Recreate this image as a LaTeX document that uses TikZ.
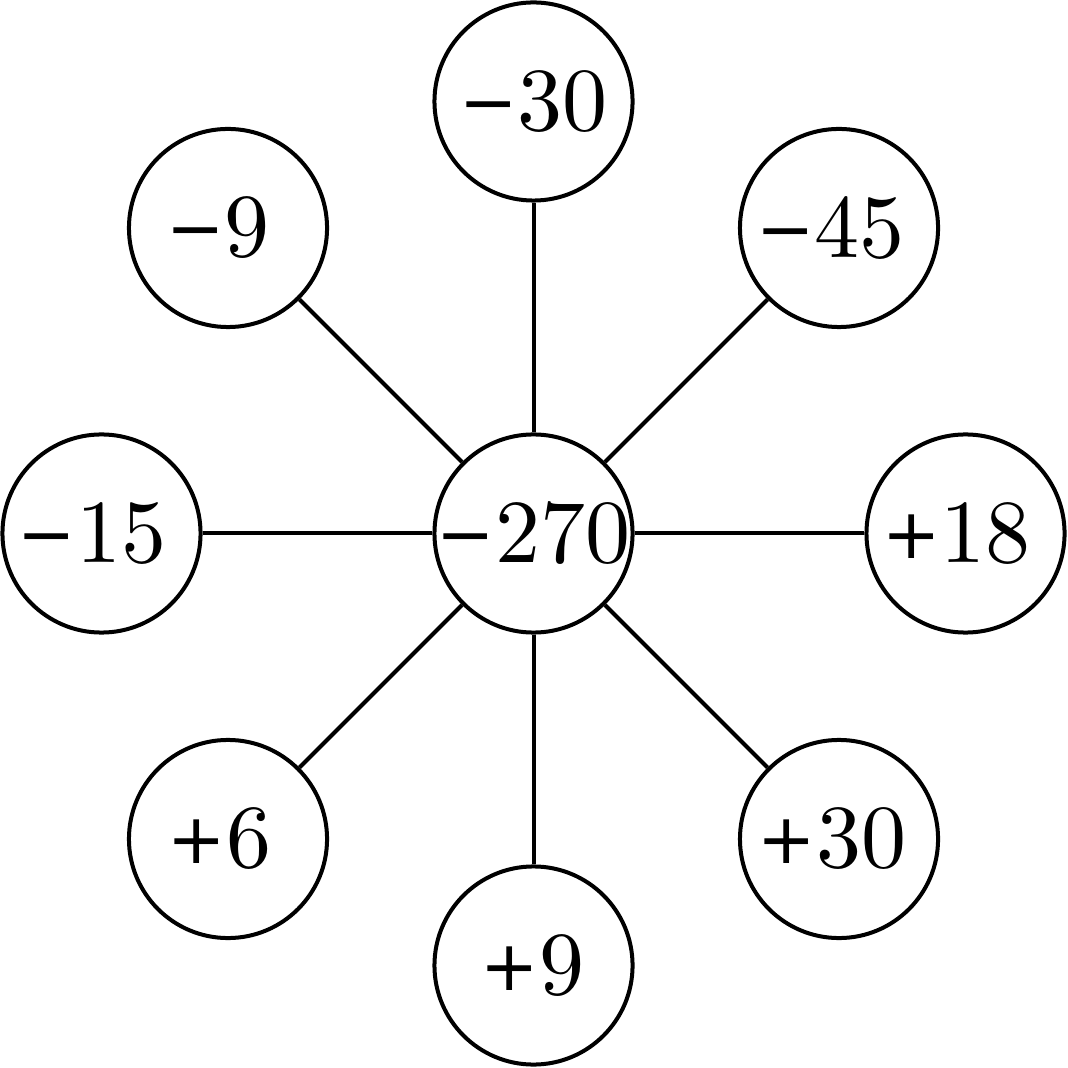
\documentclass[tikz,border=0pt]{standalone}
\usepackage{fontspec}
\newfontfamily\digitfont{lmroman10-regular.otf}
\newfontfamily\signfont{DejaVu Sans}
% #1 horizontal shift, #2 sign, #3 digits
\newcommand\numtxt[3]{\makebox[0pt]{\kern#1\relax\raisebox{1.14pt}[0pt][0pt]{\signfont\fontsize{19.8pt}{20pt}\selectfont #2}{\digitfont\fontsize{25.6pt}{30pt}\selectfont #3}\kern-#1\relax}}
\tikzset{
  numnode/.style={circle, draw, line width=0.04cm, minimum size=1.98cm, inner sep=0pt, fill=white},
  link/.style={line width=0.04cm}
}
\begin{document}
\begin{tikzpicture}[x=0.01cm,y=-0.01cm]
\useasboundingbox (0,0) rectangle (1068,1068);
\node[numnode] (c)  at (533.5,533.5) {\numtxt{0cm}{−}{270}};
\node[numnode] (n)  at (533.5,101.5) {\numtxt{0cm}{−}{30}};
\node[numnode] (ne) at (839,228)     {\numtxt{-0.085cm}{−}{45}};
\node[numnode] (e)  at (965.5,533.5) {\numtxt{-0.09cm}{+}{18}};
\node[numnode] (se) at (839,839)     {\numtxt{-0.07cm}{+}{30}};
\node[numnode] (s)  at (533.5,965.5) {\numtxt{-0.01cm}{+}{9}};
\node[numnode] (sw) at (228,839)     {\numtxt{-0.085cm}{+}{6}};
\node[numnode] (w)  at (101.5,533.5) {\numtxt{-0.095cm}{−}{15}};
\node[numnode] (nw) at (228,228)     {\numtxt{-0.1cm}{−}{9}};
\foreach \t in {n,ne,e,se,s,sw,w,nw} \draw[link] (c) -- (\t);
\end{tikzpicture}
\end{document}
